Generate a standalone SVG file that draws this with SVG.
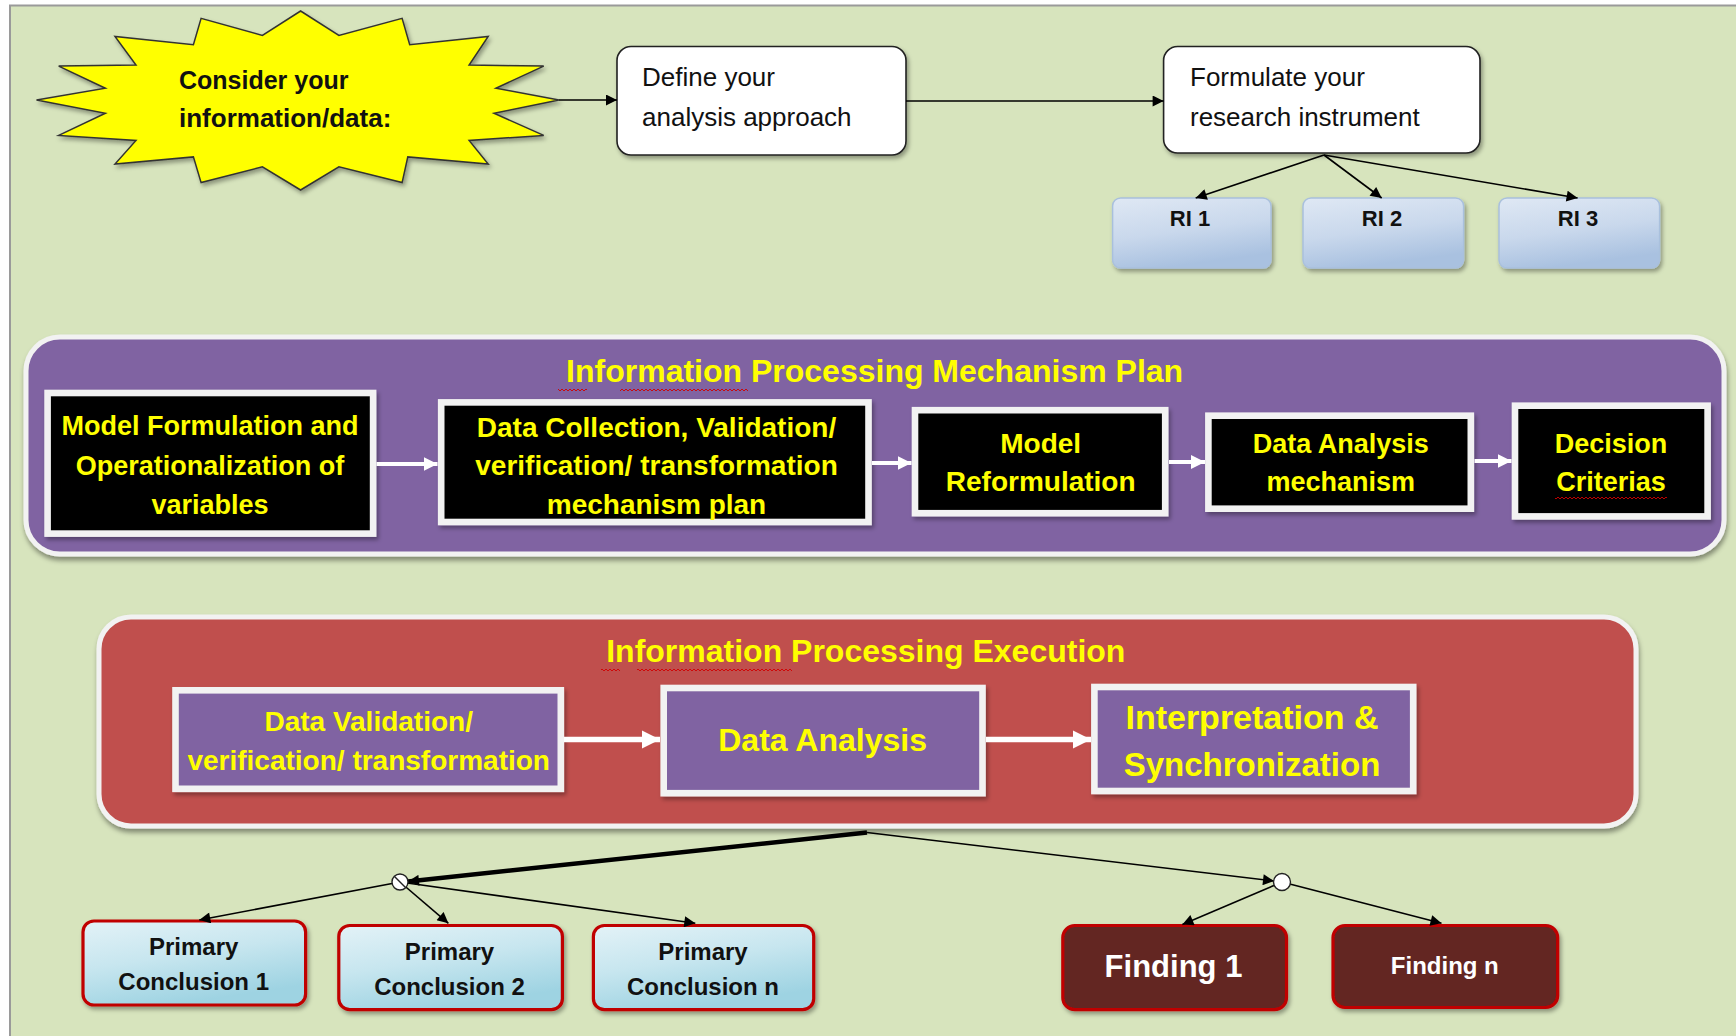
<svg xmlns="http://www.w3.org/2000/svg" width="1736" height="1036" viewBox="0 0 1736 1036">
<style>
.t{font-family:"Liberation Sans",Arial,sans-serif;}
.b{font-family:"Liberation Sans",Arial,sans-serif;font-weight:bold;}
.yel{fill:#ffff00;}
.c{text-anchor:middle;}
.blk{fill:#000;stroke:#f2f2f2;stroke-width:6.6;}
.pur{fill:#8064a2;stroke:#f2f2f2;stroke-width:6.6;}
.ri{fill:url(#gRI);stroke:#a9c0dd;stroke-width:1.5;}
.pc{fill:url(#gPC);stroke:#c00000;stroke-width:3.2;}
.fd{fill:#632523;stroke:#c00000;stroke-width:3.2;}
.ln{fill:none;stroke:#000;stroke-width:1.6;}
.wl{fill:none;stroke:#fff;}
.sq{fill:url(#squig);}
</style>
<defs>
<filter id="sh" x="-10%" y="-10%" width="130%" height="140%"><feDropShadow dx="2" dy="3" stdDeviation="2" flood-color="#000" flood-opacity="0.35"/></filter>
<filter id="sh2" x="-5%" y="-10%" width="110%" height="130%"><feDropShadow dx="1" dy="4" stdDeviation="2.5" flood-color="#000" flood-opacity="0.4"/></filter>
<linearGradient id="gRI" x1="0" y1="0" x2="0.3" y2="1"><stop offset="0" stop-color="#dfe8f4"/><stop offset="0.55" stop-color="#c9d8ec"/><stop offset="1" stop-color="#a9c1e0"/></linearGradient>
<linearGradient id="gPC" x1="0" y1="0" x2="0.4" y2="1"><stop offset="0" stop-color="#e3f2f7"/><stop offset="0.5" stop-color="#c7e6ef"/><stop offset="1" stop-color="#9ed3e2"/></linearGradient>
<marker id="ah" viewBox="0 0 10 10" refX="10" refY="5" markerWidth="13" markerHeight="11" markerUnits="userSpaceOnUse" orient="auto"><path d="M0,0 L10,5 L0,10 z" fill="#000"/></marker>
<marker id="ahw" viewBox="0 0 10 10" refX="10" refY="5" markerWidth="14" markerHeight="16" markerUnits="userSpaceOnUse" orient="auto"><path d="M0,0 L10,5 L0,10 z" fill="#fff"/></marker>
<marker id="ahw2" viewBox="0 0 10 10" refX="10" refY="5" markerWidth="18" markerHeight="22" markerUnits="userSpaceOnUse" orient="auto"><path d="M0,0 L10,5 L0,10 z" fill="#fff"/></marker>
<pattern id="squig" x="0" y="0" width="4" height="4" patternUnits="userSpaceOnUse"><path d="M0,3 L2,1 L4,3" fill="none" stroke="#d00000" stroke-width="0.9"/></pattern>
</defs>

<rect x="0" y="0" width="1736" height="1036" fill="#ffffff"/>
<rect x="10" y="5.5" width="1740" height="1040" fill="#d7e4bd" stroke="#9a9a9a" stroke-width="2"/>

<g id="start">
<polygon filter="url(#sh)" fill="#ffff00" stroke="#333" stroke-width="1.5" points="300.6,11 338.9,35.4 402.1,18.3 409.7,44.7 488.2,36.4 469.1,65.1 543.7,66.1 495.9,88.2 559,100.1 494,113.3 543.7,135.4 469.1,140.4 488.2,164.1 407.8,156.9 402.1,182.6 338.9,166.8 300.6,190 262.4,166.8 201.1,182.6 193.4,156.9 115,164.1 136,140.4 58.7,135.4 105.4,113.3 36.5,100.1 105.4,88.2 58.7,66.1 136,65.1 115,36.4 193.4,44.7 201.1,18.3 262.4,35.4"/>
<text class="b" x="179" y="89" font-size="25" fill="#111">Consider your</text>
<text class="b" x="179" y="127" font-size="26" fill="#111">information/data:</text>
</g>

<g id="define">
<rect x="617" y="46.5" width="289" height="108.5" rx="14" fill="#fff" stroke="#222" stroke-width="1.6" filter="url(#sh)"/>
<text class="t" x="642" y="86" font-size="26" fill="#111">Define your</text>
<text class="t" x="642" y="126" font-size="26" fill="#111">analysis approach</text>
</g>

<g id="formulate">
<rect x="1163.6" y="46.5" width="316.4" height="106.5" rx="14" fill="#fff" stroke="#222" stroke-width="1.6" filter="url(#sh)"/>
<text class="t" x="1190" y="86" font-size="26" fill="#111">Formulate your</text>
<text class="t" x="1190" y="126" font-size="26" fill="#111">research instrument</text>
</g>

<g id="ri1"><rect class="ri" x="1112.6" y="198" width="158.4" height="70" rx="8" filter="url(#sh)"/><text class="b c" x="1190" y="226" font-size="22" fill="#111">RI 1</text></g>
<g id="ri2"><rect class="ri" x="1303" y="198" width="160.6" height="70" rx="8" filter="url(#sh)"/><text class="b c" x="1382" y="226" font-size="22" fill="#111">RI 2</text></g>
<g id="ri3"><rect class="ri" x="1499" y="198" width="160.6" height="70" rx="8" filter="url(#sh)"/><text class="b c" x="1578" y="226" font-size="22" fill="#111">RI 3</text></g>

<g id="plan">
<rect x="26" y="337" width="1698" height="217" rx="34" fill="#8064a2" stroke="#f2f2f2" stroke-width="5" filter="url(#sh2)"/>
<text class="b c yel" x="874.6" y="382" font-size="32">Information Processing Mechanism Plan</text>
<rect class="sq" x="558" y="387" width="29" height="4"/>
<rect class="sq" x="620" y="387" width="128" height="4"/>
</g>

<g id="p1"><rect class="blk" x="47.6" y="393" width="325.5" height="140.6" filter="url(#sh)"/>
<text class="b c yel" x="210" y="435" font-size="27">Model Formulation and</text>
<text class="b c yel" x="210" y="475" font-size="27">Operationalization of</text>
<text class="b c yel" x="210" y="514" font-size="27">variables</text></g>

<g id="p2"><rect class="blk" x="441.2" y="402.4" width="427.3" height="119.6" filter="url(#sh)"/>
<text class="b c yel" x="656.5" y="437" font-size="28">Data Collection, Validation/</text>
<text class="b c yel" x="656.5" y="475" font-size="28">verification/ transformation</text>
<text class="b c yel" x="656.5" y="514" font-size="28">mechanism plan</text></g>

<g id="p3"><rect class="blk" x="915" y="410.2" width="250.2" height="103" filter="url(#sh)"/>
<text class="b c yel" x="1040.7" y="453" font-size="28">Model</text>
<text class="b c yel" x="1040.7" y="491" font-size="28">Reformulation</text></g>

<g id="p4"><rect class="blk" x="1208.4" y="415.7" width="262.4" height="93" filter="url(#sh)"/>
<text class="b c yel" x="1340.7" y="453" font-size="27">Data Analysis</text>
<text class="b c yel" x="1340.7" y="491" font-size="27">mechanism</text></g>

<g id="p5"><rect class="blk" x="1515" y="405.7" width="192.6" height="110.7" filter="url(#sh)"/>
<text class="b c yel" x="1611" y="453" font-size="27">Decision</text>
<text class="b c yel" x="1611" y="491" font-size="27">Criterias</text>
<rect class="sq" x="1555" y="497" width="112" height="4"/></g>

<g id="exec">
<rect x="99" y="617" width="1537" height="209" rx="32" fill="#c0504d" stroke="#f2f2f2" stroke-width="5" filter="url(#sh2)"/>
<text class="b c yel" x="865.8" y="662" font-size="32">Information Processing Execution</text>
<rect class="sq" x="601" y="667" width="19" height="4"/>
<rect class="sq" x="637" y="667" width="155" height="4"/>
</g>

<g id="e1"><rect class="pur" x="175.5" y="690.3" width="385.3" height="98.5" filter="url(#sh)"/>
<text class="b c yel" x="368.7" y="730.5" font-size="28">Data Validation/</text>
<text class="b c yel" x="368.7" y="769.5" font-size="28">verification/ transformation</text></g>

<g id="e2"><rect class="pur" x="663.7" y="688" width="318.8" height="105.2" filter="url(#sh)"/>
<text class="b c yel" x="822.6" y="751" font-size="32">Data Analysis</text></g>

<g id="e3"><rect class="pur" x="1094.4" y="687" width="318.8" height="104" filter="url(#sh)"/>
<text class="b c yel" x="1252" y="729" font-size="34">Interpretation &amp;</text>
<text class="b c yel" x="1252" y="776" font-size="33">Synchronization</text></g>

<g id="pc1"><rect class="pc" x="83" y="921" width="222.6" height="84" rx="11" filter="url(#sh)"/>
<text class="b c" x="193.7" y="955" font-size="24" fill="#111">Primary</text>
<text class="b c" x="193.7" y="990" font-size="24" fill="#111">Conclusion 1</text></g>

<g id="pc2"><rect class="pc" x="338.8" y="925.5" width="223.6" height="84.2" rx="11" filter="url(#sh)"/>
<text class="b c" x="449.5" y="959.5" font-size="24" fill="#111">Primary</text>
<text class="b c" x="449.5" y="995" font-size="24" fill="#111">Conclusion 2</text></g>

<g id="pcn"><rect class="pc" x="593.4" y="925.5" width="220.3" height="84.2" rx="11" filter="url(#sh)"/>
<text class="b c" x="703" y="959.5" font-size="24" fill="#111">Primary</text>
<text class="b c" x="703" y="995" font-size="24" fill="#111">Conclusion n</text></g>

<g id="f1"><rect class="fd" x="1062.8" y="925.5" width="223.7" height="84.2" rx="12" filter="url(#sh)"/>
<text class="b c" x="1173.5" y="976.5" font-size="31" fill="#fff">Finding 1</text></g>

<g id="fn"><rect class="fd" x="1333" y="925.5" width="224.7" height="82" rx="12" filter="url(#sh)"/>
<text class="b c" x="1444.8" y="974" font-size="24" fill="#fff">Finding n</text></g>

<g id="connectors">
<path class="ln" d="M559,100 L617,100" marker-end="url(#ah)"/>
<path class="ln" d="M906,101 L1163.6,101" marker-end="url(#ah)"/>
<path class="ln" d="M1324,155 L1195.7,198" marker-end="url(#ah)"/>
<path class="ln" d="M1324,155 L1381.7,198" marker-end="url(#ah)"/>
<path class="ln" d="M1324,155 L1577.6,198" marker-end="url(#ah)"/>
<path class="wl" stroke-width="4" d="M376.5,464 L437.5,464" marker-end="url(#ahw)"/>
<path class="wl" stroke-width="4" d="M872,463 L911.5,463" marker-end="url(#ahw)"/>
<path class="wl" stroke-width="4" d="M1169,462 L1205,462" marker-end="url(#ahw)"/>
<path class="wl" stroke-width="4" d="M1474.5,461 L1511.5,461" marker-end="url(#ahw)"/>
<path class="wl" stroke-width="5.5" d="M564,739.5 L660,739.5" marker-end="url(#ahw2)"/>
<path class="wl" stroke-width="5.5" d="M986,739.5 L1091,739.5" marker-end="url(#ahw2)"/>
<path fill="none" stroke="#000" stroke-width="4.5" d="M867,832.5 L408,881.5" marker-end="url(#ah)"/>
<path class="ln" d="M867,832.5 L1274,881" marker-end="url(#ah)"/>
<path class="ln" d="M400,882 L199.3,920" marker-end="url(#ah)"/>
<path class="ln" d="M400,882 L448.4,923.3" marker-end="url(#ah)"/>
<path class="ln" d="M400,882 L695.3,923.3" marker-end="url(#ah)"/>
<path class="ln" d="M1282,882 L1182.4,924.4" marker-end="url(#ah)"/>
<path class="ln" d="M1282,882 L1441.5,923.3" marker-end="url(#ah)"/>
<g id="j1"><circle cx="400" cy="882" r="8" fill="#fff" stroke="#222" stroke-width="1.4"/><path d="M394.5,876.5 L405.5,887.5" stroke="#222" stroke-width="1.4"/></g>
<g id="j2"><circle cx="1282" cy="882" r="8.5" fill="#fff" stroke="#222" stroke-width="1.4"/></g>
</g>
</svg>
